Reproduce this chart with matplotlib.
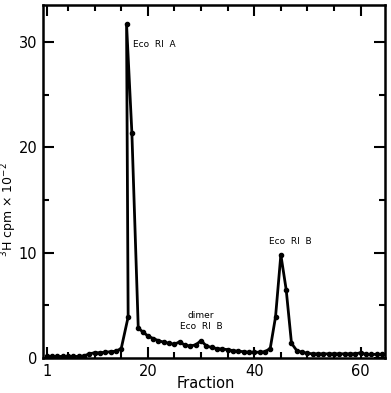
import numpy as np
import matplotlib.pyplot as plt
from matplotlib.ticker import MultipleLocator

# fraction number and 3H cpm (x 10^-2)
fraction = [1, 2, 3, 4, 5, 6, 7, 8, 9, 10, 11, 12, 13, 14, 15,
            16.3, 16.0, 17, 18.2, 19, 20, 21, 22, 23, 24, 25, 26, 27, 28, 29, 30,
            31, 32, 33, 34, 35, 36, 37, 38, 39, 40, 41, 42, 43, 44, 45, 46, 47,
            48, 49, 50, 51, 52, 53, 54, 55, 56, 57, 58, 59, 60, 61, 62, 63, 64]
cpm = [0.15, 0.15, 0.15, 0.15, 0.15, 0.15, 0.15, 0.2, 0.4, 0.5, 0.5, 0.55, 0.6, 0.65, 0.9,
       3.9, 31.7, 21.4, 2.85, 2.5, 2.1, 1.85, 1.65, 1.5, 1.4, 1.3, 1.55, 1.2, 1.15, 1.25, 1.65,
       1.15, 1.0, 0.9, 0.85, 0.8, 0.7, 0.65, 0.6, 0.55, 0.55, 0.55, 0.6, 0.9, 3.9, 9.8, 6.5, 1.4,
       0.7, 0.55, 0.45, 0.4, 0.4, 0.4, 0.4, 0.4, 0.4, 0.4, 0.4, 0.4, 0.5, 0.35, 0.35, 0.35, 0.35]

xtick_pos = [1, 20, 40, 60]
xtick_lab = ['1', '20', '40', '60']
ytick_pos = [0, 10, 20, 30]

# (text, x, y, horizontal alignment)
peak_labels = [('Eco  RI  A', 17.2, 29.8, 'left'),
               ('Eco  RI  B', 46.7, 11.1, 'center'),
               ('dimer', 30.0, 4.0, 'center'),
               ('Eco  RI  B', 30.0, 2.95, 'center')]

fig = plt.figure(figsize=(3.91, 3.93), dpi=100)
ax = fig.add_axes([0.110, 0.089, 0.875, 0.898])

ax.plot(fraction, cpm, color='black', lw=2.0, marker='o', ms=3.0, zorder=2)

ax.set_xlim(0.3, 64.6)
ax.set_ylim(0, 33.5)

ax.set_xticks(xtick_pos)
ax.set_xticklabels(xtick_lab)
ax.xaxis.set_minor_locator(MultipleLocator(5))
ax.set_yticks(ytick_pos)
ax.yaxis.set_minor_locator(MultipleLocator(5))
ax.tick_params(which='both', direction='in', top=True, right=True, width=1.5,
               labelsize=10.5, pad=4)
ax.tick_params(which='major', length=8)
ax.tick_params(which='minor', length=4)
for s in ax.spines.values():
    s.set_linewidth(1.8)

ax.set_xlabel('Fraction', fontsize=10.5)
ax.xaxis.set_label_coords(0.477, -0.05)
ax.set_ylabel(r'$^3$H cpm $\times$ 10$^{-2}$', fontsize=9)
ax.yaxis.set_label_coords(-0.07, 0.42)

for txt, xx, yy, ha in peak_labels:
    ax.text(xx, yy, txt, fontsize=6.5, ha=ha, va='center')

fig.savefig('out.png', dpi=100)
